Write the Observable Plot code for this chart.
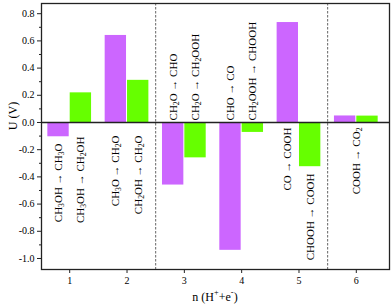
<!DOCTYPE html>
<html>
<head>
<meta charset="utf-8">
<script src="https://cdn.jsdelivr.net/npm/d3@7"></script>
<script src="https://cdn.jsdelivr.net/npm/@observablehq/plot@0.6"></script>
<style>
  html, body { margin: 0; padding: 0; background: #fff; }
  svg { display: block; }
</style>
</head>
<body>
<div id="chart"></div>
<script>
// ---- data ----
const steps = [1, 2, 3, 4, 5, 6];
const purpleU = [-0.105, 0.64, -0.46, -0.94, 0.735, 0.048];
const greenU = [0.218, 0.31, -0.26, -0.073, -0.325, 0.047];

const labelStep = [1, 1, 2, 2, 3, 3, 4, 4, 5, 5, 6];
const labelBar = ["p", "g", "p", "g", "p", "g", "p", "g", "p", "g", "both"];
const labelText = [
  "CH3OH → CH3O", "CH3OH → CH2OH",
  "CH3O → CH2O", "CH2OH → CH2O",
  "CH2O → CHO", "CH2O → CH2OOH",
  "CHO → CO", "CH2OOH → CHOOH",
  "CO → COOH", "CHOOH → COOH",
  "COOH → CO2"
];
const labelAt = [-0.155, -0.103, -0.096, -0.096, 0.015, 0.015, 0.015, 0.015, -0.037, -0.375, -0.037];

const yTicks = [-1.0, -0.8, -0.6, -0.4, -0.2, 0, 0.2, 0.4, 0.6, 0.8];
const yTickLabels = ["-1.0", "-0.8", "-0.6", "-0.4", "-0.2", "0.0", "0.2", "0.4", "0.6", "0.8"];
const yMinor = [-0.9, -0.7, -0.5, -0.3, -0.1, 0.1, 0.3, 0.5, 0.7];
const xTicks = [1, 2, 3, 4, 5, 6];
const xTickLabels = ["1", "2", "3", "4", "5", "6"];
const dividers = [2.5, 5.5];

const purple = "#cc66ff";
const green = "#66ff00";
const barW = 0.39;

// ---- build tables ----
const bars = [];
steps.forEach((s, i) => {
  bars.push({x1: s - barW, x2: s, u: purpleU[i], fill: purple});
  bars.push({x1: s, x2: s + barW, u: greenU[i], fill: green});
});
const labels = labelText.map((t, i) => ({
  x: labelStep[i] + (labelBar[i] === "p" ? -barW / 2 : labelBar[i] === "g" ? barW / 2 : 0),
  y: labelAt[i],
  text: t
}));
const yLab = new Map(yTicks.map((t, i) => [t, yTickLabels[i]]));
const xLab = new Map(xTicks.map((t, i) => [t, xTickLabels[i]]));

const plot = Plot.plot({
  width: 392,
  height: 304,
  marginLeft: 41,
  marginRight: 3,
  marginTop: 3,
  marginBottom: 35,
  style: {fontFamily: "Liberation Serif", fontSize: "10px", background: "#fff", color: "#000"},
  x: {domain: [0.508, 6.579]},
  y: {domain: [-1.081, 0.875]},
  marks: [
    Plot.rect(bars, {x1: "x1", x2: "x2", y1: 0, y2: "u", fill: "fill", insetLeft: 0.5, insetRight: 0.5}),
    Plot.ruleX(dividers, {stroke: "#555", strokeWidth: 0.9, strokeDasharray: "2.5,1.5"}),
    Plot.ruleY([0], {stroke: "#222", strokeWidth: 1.4}),
    Plot.text(labels.filter(d => d.y < 0), {x: "x", y: "y", text: "text", rotate: -90, textAnchor: "end", fontSize: 11, className: "barlab"}),
    Plot.text(labels.filter(d => d.y >= 0), {x: "x", y: "y", text: "text", rotate: -90, textAnchor: "start", fontSize: 11, className: "barlab"}),
    Plot.axisY({ticks: yTicks, tickFormat: d => yLab.get(d), tickSize: 4, tickPadding: 3, label: null, stroke: "#222"}),
    Plot.axisY({ticks: yMinor, tickFormat: () => "", tickSize: 2, label: null, stroke: "#222"}),
    Plot.axisX({ticks: xTicks, tickFormat: d => xLab.get(d), tickSize: 4, tickPadding: 3, label: null, stroke: "#222"}),
    Plot.frame({stroke: "#222", strokeWidth: 1.3})
  ]
});

// subscripts in reaction labels
d3.select(plot).selectAll("g.barlab text").each(function () {
  const s = this.textContent;
  const el = d3.select(this);
  el.text(null);
  s.split(/(\d)/).forEach(part => {
    if (!part) return;
    if (/^\d$/.test(part)) {
      el.append("tspan").attr("font-size", "0.7em").attr("baseline-shift", "-0.3em").text(part);
    } else {
      el.append("tspan").text(part);
    }
  });
});

const svg = d3.select(plot);
// axis titles
svg.append("text")
  .attr("transform", "translate(13,116) rotate(-90)")
  .attr("text-anchor", "middle")
  .attr("dominant-baseline", "central")
  .attr("font-family", "Liberation Serif")
  .attr("font-size", 12)
  .text("U (V)");

const xt = svg.append("text")
  .attr("x", 215)
  .attr("y", 297)
  .attr("text-anchor", "middle")
  .attr("dominant-baseline", "central")
  .attr("font-family", "Liberation Serif")
  .attr("font-size", 12);
xt.append("tspan").text("n (H");
xt.append("tspan").attr("font-size", "0.7em").attr("baseline-shift", "0.5em").text("+");
xt.append("tspan").text("+e");
xt.append("tspan").attr("font-size", "0.7em").attr("baseline-shift", "0.5em").text("-");
xt.append("tspan").text(")");

document.getElementById("chart").appendChild(plot);
</script>
</body>
</html>
